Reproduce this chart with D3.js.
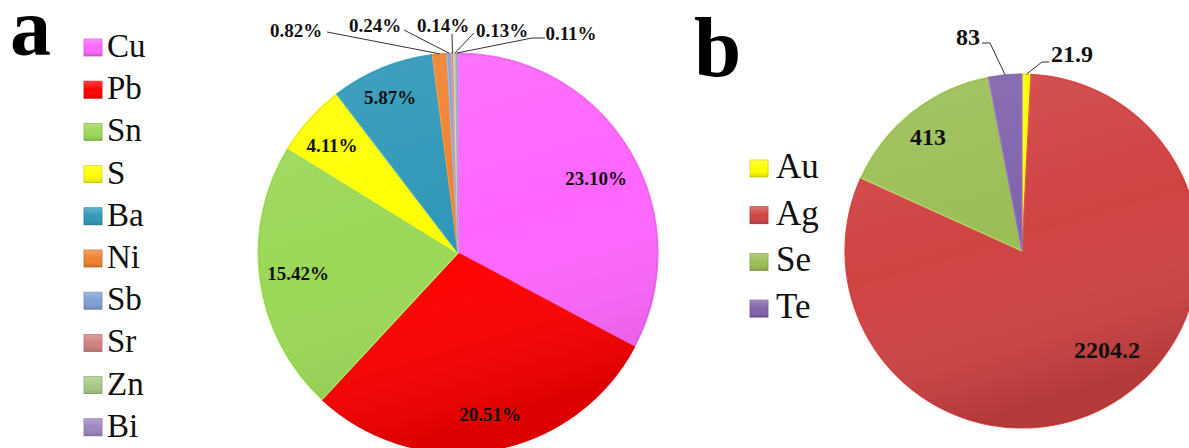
<!DOCTYPE html>
<html>
<head>
<meta charset="utf-8">
<script src="https://cdn.jsdelivr.net/npm/d3@7"></script>
<style>
  html, body { margin: 0; padding: 0; background: #fff; }
  svg { display: block; }
</style>
</head>
<body>
<svg id="chart" width="1189" height="448" font-family="'Liberation Serif', 'Times New Roman', Times, serif"></svg>
<script>
// ---- Data: panel a (element share, %) ----
const elementsA = ["Cu", "Pb", "Sn", "S", "Ba", "Ni", "Sb", "Sr", "Zn", "Bi"];
const valuesA   = [23.10, 20.51, 15.42, 4.11, 5.87, 0.82, 0.24, 0.14, 0.13, 0.11];
const labelsA   = ["23.10%", "20.51%", "15.42%", "4.11%", "5.87%", "0.82%", "0.24%", "0.14%", "0.13%", "0.11%"];
const colorsA   = ["#FF66FF", "#FF0000", "#9BD858", "#FFFF00", "#2F97B8", "#F0812E", "#7E9FD4", "#CF8080", "#A7C985", "#9C86BF"];

// ---- Data: panel b ----
const elementsB = ["Au", "Ag", "Se", "Te"];
const valuesB   = [21.9, 2204.2, 413, 83];
const labelsB   = ["21.9", "2204.2", "413", "83"];
const colorsB   = ["#FFFF00", "#D04343", "#9BBE55", "#8062AC"];

// ---- Layout (positions kept separate from data) ----
const FONT = "'Liberation Serif', 'Times New Roman', Times, serif";
const pieA = { cx: 458, cy: 253, r: 200 };
const pieB = { cx: 1022, cy: 251, r: 177 };
// label placement: [x, baseline y, leader points (label side) or null]
const labelPosA = {
  "Cu": [596, 185, null],
  "Pb": [490, 421, null],
  "Sn": [298, 280, null],
  "S":  [332, 152, null],
  "Ba": [390, 104, null],
  "Ni": [296, 37, [[327, 32]]],
  "Sb": [375, 32, [[404, 30]]],
  "Sr": [443, 32, [[452, 34]]],
  "Zn": [502, 37, [[474, 33]]],
  "Bi": [571, 40, [[545, 38], [532, 38]]]
};
const labelPosB = {
  "Au": [1072, 62, [[1049, 62], [1042, 62]]],
  "Ag": [1107, 358, null],
  "Se": [928, 145, null],
  "Te": [968, 45, [[982, 43], [990, 43]]]
};

const svg = d3.select("#chart");
const defs = svg.append("defs");

const shade = defs.append("linearGradient").attr("id", "shade")
  .attr("x1", 0).attr("y1", 0).attr("x2", 0.3).attr("y2", 1);
shade.append("stop").attr("offset", "0").attr("stop-color", "#fff").attr("stop-opacity", 0.10);
shade.append("stop").attr("offset", "0.55").attr("stop-color", "#fff").attr("stop-opacity", 0);
shade.append("stop").attr("offset", "1").attr("stop-color", "#000").attr("stop-opacity", 0.13);

const sqShade = defs.append("linearGradient").attr("id", "sqshade")
  .attr("x1", 0).attr("y1", 0).attr("x2", 0).attr("y2", 1);
sqShade.append("stop").attr("offset", "0").attr("stop-color", "#fff").attr("stop-opacity", 0.25);
sqShade.append("stop").attr("offset", "0.5").attr("stop-color", "#fff").attr("stop-opacity", 0);
sqShade.append("stop").attr("offset", "1").attr("stop-color", "#000").attr("stop-opacity", 0.15);

function drawPie(cfg, names, values, labels, colors, labelPos, fontSize) {
  const color = d3.scaleOrdinal().domain(names).range(colors);
  const pie = d3.pie().sort(null).value(d => d.v).startAngle(0).endAngle(2 * Math.PI);
  const data = names.map((n, i) => ({ name: n, v: values[i], label: labels[i] }));
  const arcs = pie(data);
  const arc = d3.arc().innerRadius(0).outerRadius(cfg.r);
  const g = svg.append("g").attr("transform", `translate(${cfg.cx},${cfg.cy})`);

  g.selectAll("path.slice").data(arcs).join("path")
    .attr("class", "slice")
    .attr("d", arc)
    .attr("fill", d => color(d.data.name))
    .attr("stroke", d => d3.color(color(d.data.name)).brighter(0.4))
    .attr("stroke-width", 1.2)
    .attr("stroke-linejoin", "round");

  g.append("circle").attr("r", cfg.r).attr("fill", "url(#shade)").attr("pointer-events", "none");
  g.append("circle").attr("r", cfg.r - 0.5).attr("fill", "none")
    .attr("stroke", "rgba(0,0,0,0.12)").attr("stroke-width", 1);

  // leader lines
  arcs.forEach(d => {
    const p = labelPos[d.data.name];
    if (!p || !p[2]) return;
    const mid = (d.startAngle + d.endAngle) / 2;
    const ex = cfg.cx + cfg.r * Math.sin(mid);
    const ey = cfg.cy - cfg.r * Math.cos(mid);
    const pts = [[ex, ey]].concat(p[2].slice().reverse());
    svg.append("path")
      .attr("d", d3.line()(pts))
      .attr("fill", "none").attr("stroke", "#333").attr("stroke-width", 1);
  });

  // labels
  arcs.forEach(d => {
    const p = labelPos[d.data.name];
    svg.append("text")
      .attr("x", p[0]).attr("y", p[1])
      .attr("text-anchor", "middle")
      .attr("font-family", FONT)
      .attr("font-weight", "bold")
      .attr("font-size", fontSize)
      .attr("fill", "#111")
      .text(d.data.label);
  });
  return color;
}

function drawLegend(names, color, x, y0, step, fontSize, sq, gap) {
  names.forEach((n, i) => {
    const by = y0 + i * step;
    svg.append("rect")
      .attr("x", x).attr("y", by - sq - 1).attr("width", sq + 1).attr("height", sq)
      .attr("fill", color(n))
      .attr("stroke", d3.color(color(n)).darker(0.5)).attr("stroke-width", 0.8);
    svg.append("rect")
      .attr("x", x).attr("y", by - sq - 1).attr("width", sq + 1).attr("height", sq)
      .attr("fill", "url(#sqshade)");
    svg.append("text")
      .attr("x", x + sq + gap).attr("y", by)
      .attr("font-family", FONT)
      .attr("font-size", fontSize)
      .attr("fill", "#111")
      .text(n);
  });
}

const colA = drawPie(pieA, elementsA, valuesA, labelsA, colorsA, labelPosA, 19);
const colB = drawPie(pieB, elementsB, valuesB, labelsB, colorsB, labelPosB, 24);

drawLegend(elementsA, colA, 84, 57, 42.2, 33, 17, 6);
drawLegend(elementsB, colB, 750, 178, 46.7, 35, 17, 9);

// panel letters
svg.append("text").attr("x", 10).attr("y", 55).attr("font-family", FONT)
  .attr("font-size", 82).attr("font-weight", "bold").attr("fill", "#000").text("a");
svg.append("text").attr("x", 694).attr("y", 76).attr("font-family", FONT)
  .attr("font-size", 85).attr("font-weight", "bold").attr("fill", "#000").text("b");
</script>
</body>
</html>
